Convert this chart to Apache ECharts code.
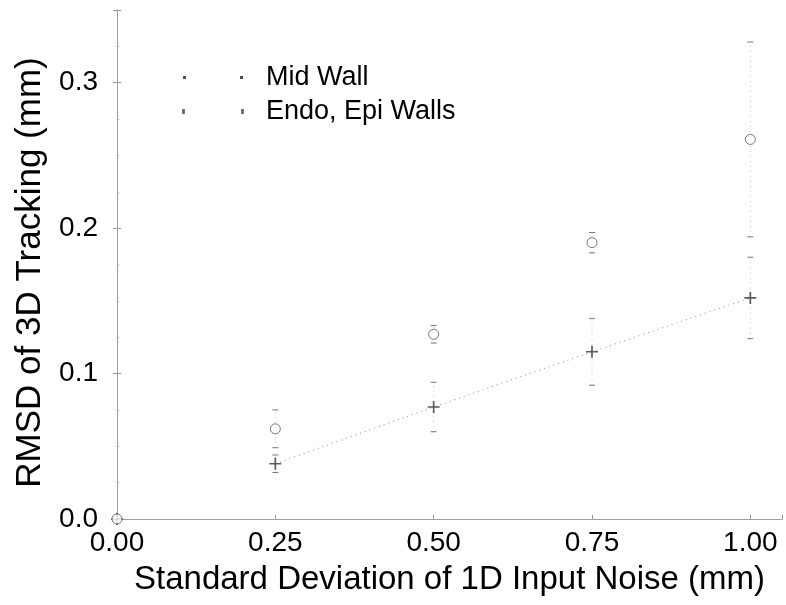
<!DOCTYPE html>
<html><head><meta charset="utf-8">
<script src="https://cdn.jsdelivr.net/npm/echarts@6/dist/echarts.min.js"></script>
<style>html,body{margin:0;padding:0;background:#fff}#c{width:786px;height:605px}</style>
</head><body><div id="c"></div>
<script>
// Data
const noise = [0.00, 0.25, 0.50, 0.75, 1.00];
const midWall = [0.000, 0.038, 0.077, 0.115, 0.152];
const midWallErr = [0.000, 0.006, 0.017, 0.023, 0.028];
const endoEpi = [0.000, 0.062, 0.127, 0.190, 0.261];
const endoEpiErr = [0.000, 0.013, 0.006, 0.007, 0.067];
const xTicks = [0.00, 0.25, 0.50, 0.75, 1.00];
const yTicks = [0.0, 0.1, 0.2, 0.3];

const font = 'Liberation Sans, Arial, Helvetica, sans-serif';
const plusPath = 'path://M-0.7,-5 L0.7,-5 L0.7,-0.7 L5,-0.7 L5,0.7 L0.7,0.7 L0.7,5 L-0.7,5 L-0.7,0.7 L-5,0.7 L-5,-0.7 L-0.7,-0.7 Z';

function pairs(ys){ return noise.map((x,i)=>[x, ys[i]]); }
function errData(ys, es){ return noise.map((x,i)=>[x, ys[i]-es[i], ys[i]+es[i]]).filter(d=>d[2]>d[1]); }
function errRender(params, api){
  const x = api.value(0), lo = api.value(1), hi = api.value(2);
  const p1 = api.coord([x, lo]), p2 = api.coord([x, hi]);
  const w = 3;
  const style = {stroke:'#bbb', lineWidth:1, lineDash:[1,4]};
  return {type:'group', children:[
    {type:'line', shape:{x1:p1[0],y1:p1[1],x2:p2[0],y2:p2[1]}, style:style},
    {type:'line', shape:{x1:p1[0]-w,y1:p1[1],x2:p1[0]+w,y2:p1[1]}, style:{stroke:'#777',lineWidth:1}},
    {type:'line', shape:{x1:p2[0]-w,y1:p2[1],x2:p2[0]+w,y2:p2[1]}, style:{stroke:'#777',lineWidth:1}}
  ]};
}

const chart = echarts.init(document.getElementById('c'));
const axisLineStyle = {color:'#999', type:'dotted', width:1};
chart.setOption({
  animation:false,
  grid:{left:117, right:4, top:10, bottom:86},
  legend:{
    orient:'vertical', left:177, top:59, itemGap:7, itemWidth:60, itemHeight:6,
    textStyle:{fontFamily:font, fontSize:27, color:'#000', padding:[0,0,0,18]},
    data:[
      {name:'Mid Wall', icon:'path://M0,2 L3,2 L3,5 L0,5 Z M57,2 L60,2 L60,5 L57,5 Z', itemStyle:{color:'#222'}},
      {name:'Endo, Epi Walls', icon:'path://M1,2 L2,2 L2,5 L1,5 Z M58,2 L59,2 L59,5 L58,5 Z', itemStyle:{color:'#888'}}
    ]
  },
  xAxis:[{
    type:'value', min:0, max:1.05, interval:0.25,
    name:'Standard Deviation of 1D Input Noise (mm)', nameLocation:'middle', nameGap:44,
    nameTextStyle:{fontFamily:font, fontSize:33, color:'#000'},
    axisLine:{show:true, lineStyle:axisLineStyle},
    axisTick:{show:true, inside:true, length:4, lineStyle:{color:'#999'}},
    splitLine:{show:false},
    axisLabel:{fontFamily:font, fontSize:28, color:'#000', margin:10,
      formatter:v=>xTicks.some(t=>Math.abs(t-v)<1e-6)?v.toFixed(2):''}
  },{
    type:'value', position:'top', min:0, max:1.05, interval:0.25,
    axisLine:{show:true, lineStyle:axisLineStyle}, axisTick:{show:false},
    axisLabel:{show:false}, splitLine:{show:false}
  }],
  yAxis:[{
    type:'value', min:0, max:0.35, interval:0.1,
    name:'RMSD of 3D Tracking (mm)', nameLocation:'middle', nameGap:69,
    nameTextStyle:{fontFamily:font, fontSize:35, color:'#000', padding:[0,16,0,0]},
    axisLine:{show:true, lineStyle:axisLineStyle},
    axisTick:{show:true, inside:true, length:4, lineStyle:{color:'#999'}},
    minorTick:{show:true, splitNumber:4, length:2, lineStyle:{color:'#aaa'}},
    splitLine:{show:false},
    axisLabel:{fontFamily:font, fontSize:28, color:'#000', margin:19,
      formatter:v=>yTicks.some(t=>Math.abs(t-v)<1e-6)?v.toFixed(1):''}
  },{
    type:'value', position:'right', min:0, max:0.35, interval:0.1,
    axisLine:{show:true, lineStyle:axisLineStyle},
    axisTick:{show:true, inside:true, length:4, lineStyle:{color:'#999'}},
    axisLabel:{show:false}, splitLine:{show:false}
  }],
  series:[
    {type:'custom', name:'midErr', renderItem:errRender, data:errData(midWall, midWallErr), z:1, silent:true},
    {type:'custom', name:'endoErr', renderItem:errRender, data:errData(endoEpi, endoEpiErr), z:1, silent:true},
    {type:'line', name:'midTrend', data:pairs(midWall).slice(1), symbol:'none',
      lineStyle:{color:'#888', width:1, type:[1,4]}, z:2, silent:true},
    {type:'scatter', name:'Mid Wall', data:pairs(midWall), symbol:plusPath, symbolSize:12,
      itemStyle:{color:'#333'}, z:3},
    {type:'scatter', name:'Endo, Epi Walls', data:pairs(endoEpi), symbol:'circle', symbolSize:10,
      itemStyle:{color:'#fff', borderColor:'#555', borderWidth:1}, z:4}
  ]
});
</script>
</body></html>
